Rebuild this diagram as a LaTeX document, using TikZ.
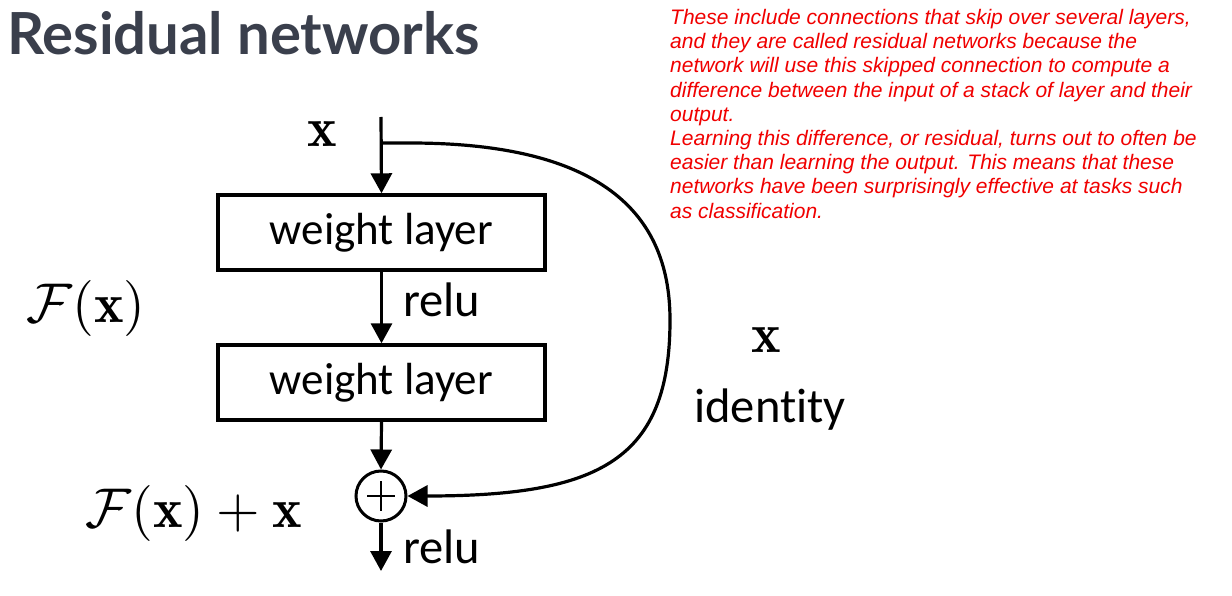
\documentclass[tikz,border=0pt]{standalone}
\usepackage{fontspec}
\usetikzlibrary{arrows.meta}
\newfontfamily\titlefont{Lato}
\newfontfamily\notefont{Liberation Sans}
\newfontfamily\boxfont[Ligatures=NoCommon]{Carlito}
\definecolor{titlegray}{RGB}{58,63,76}
\definecolor{notered}{RGB}{240,0,0}
\newcommand{\bigmath}[1]{\scalebox{5.6}{$#1$}}
\tikzset{
  conn/.style={line width=3.2pt,-{Triangle[length=20pt,width=21pt]}},
  layerbox/.style={draw,line width=3.4pt,minimum width=327pt,minimum height=75pt,inner sep=0pt,font=\boxfont\fontsize{45}{50}\selectfont},
  lbl/.style={font=\boxfont\fontsize{48.5}{52}\selectfont,inner sep=0pt},
  mathlbl/.style={inner sep=0pt},
}
\begin{document}
\begin{tikzpicture}[x=1pt,y=-1pt]
\useasboundingbox (0,0) rectangle (1232,596);
\node[anchor=west,inner sep=0pt,text=titlegray,font=\titlefont\bfseries\fontsize{58}{62}\selectfont] (title) at (7,33) {Residual networks};
\node[anchor=north west,inner sep=0pt,text=notered,align=left,font=\notefont\itshape\fontsize{21}{24.2}\selectfont] (note) at (670,9) {These include connections that skip over several layers,\\and they are called residual networks because the\\network will use this skipped connection to compute a\\difference between the input of a stack of layer and their\\output.\\Learning this difference, or residual, turns out to often be\\easier than learning the output. This means that these\\networks have been surprisingly effective at tasks such\\as classification.};
\coordinate (top) at (381,117);
\coordinate (split) at (381,143);
\node[layerbox] (w1) at (381.5,232.5) {weight layer};
\node[layerbox] (w2) at (381.5,382.5) {weight layer};
\node[draw,circle,line width=3pt,minimum size=50pt,inner sep=0pt] (sum) at (381,496) {};
\draw[line width=2.8pt] (sum.center) ++(0,-15) -- ++(0,30) (sum.center) ++(-14,0) -- ++(28,0);
\coordinate (out) at (381,571);
\node[mathlbl,anchor=east] (xin) at (337,134) {\bigmath{\mathbf{x}}};
\draw[conn] (top) -- (w1.north);
\draw[conn] (w1.south) -- (w2.north);
\draw[conn] (w2.south) -- (sum.north);
\draw[conn] (sum.south) -- (out);
\draw[conn] (split) -- (410,143) .. controls (610,143) and (670,220) .. (670,320) .. controls (670,460) and (600,496) .. (sum.east);
\node[lbl,anchor=west] (relu1) at (403,300) {relu};
\node[lbl,anchor=west] (relu2) at (403,547) {relu};
\node[mathlbl] (fx) at (86,308) {\bigmath{\mathcal{F}(\mathbf{x})}};
\node[mathlbl] (fxx) at (194,513) {\bigmath{\mathcal{F}(\mathbf{x})+\mathbf{x}}};
\node[mathlbl] (xid) at (766,340) {\bigmath{\mathbf{x}}};
\node[lbl] (ident) at (770,410) {identity};
\end{tikzpicture}
\end{document}
